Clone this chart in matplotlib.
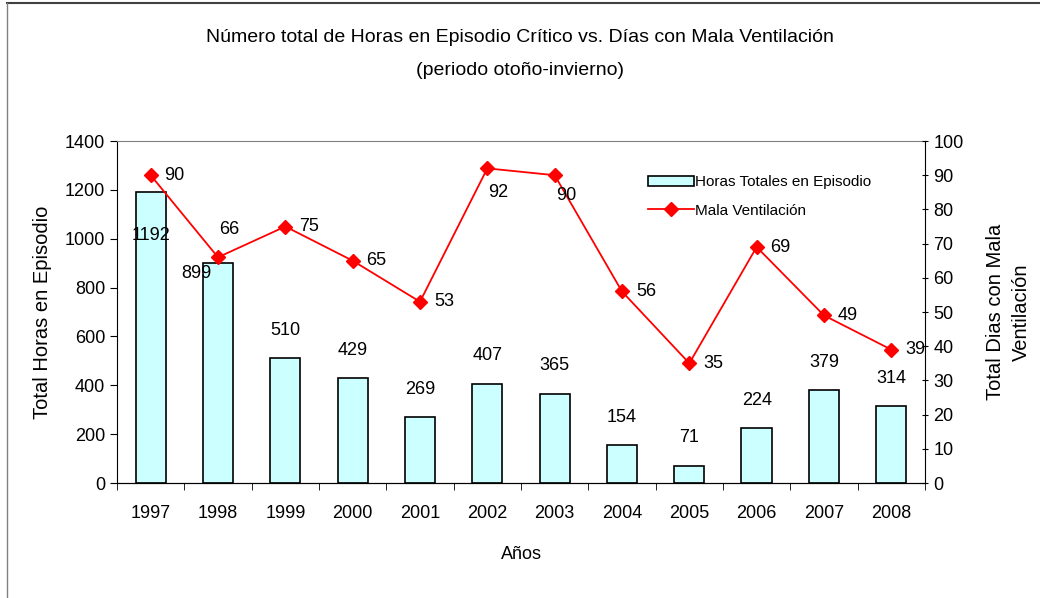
import matplotlib
matplotlib.use("Agg")
import matplotlib.pyplot as plt
import numpy as np

years = ["1997", "1998", "1999", "2000", "2001", "2002", "2003", "2004", "2005", "2006", "2007", "2008"]
horas = [1192, 899, 510, 429, 269, 407, 365, 154, 71, 224, 379, 314]
dias = [90, 66, 75, 65, 53, 92, 90, 56, 35, 69, 49, 39]

plt.rcParams['font.family'] = ['Liberation Sans', 'DejaVu Sans']

fig = plt.figure(figsize=(10.4, 5.98), dpi=100)
ax = fig.add_axes([0.1125, 0.1923, 0.7769, 0.5719])
x = np.arange(len(years))

ax.bar(x, horas, width=0.45, color="#ccffff", edgecolor="black", linewidth=1.2,
       label="Horas Totales en Episodio", zorder=2)
ax.set_xlim(-0.5, len(years) - 0.5)
ax.set_ylim(0, 1400)
ax.set_yticks(range(0, 1401, 200))
ax.set_xticks(x)
ax.set_xticklabels(years, fontsize=13)
ax.set_xticks(np.arange(-0.5, len(years), 1), minor=True)
ax.tick_params(axis="x", which="major", length=0, pad=16)
ax.tick_params(axis="x", which="minor", length=5, direction="out")
ax.tick_params(axis="y", labelsize=13, length=5, direction="out")
ax.spines["top"].set_color("#808080")
ax.spines["right"].set_visible(False)

ax2 = ax.twinx()
ax2.plot(x, dias, color="red", marker="D", markersize=7, linewidth=1.3,
         label="Mala Ventilación", zorder=3)
ax2.set_ylim(0, 100)
ax2.set_yticks(range(0, 101, 10))
ax2.tick_params(axis="y", labelsize=13, length=5, direction="inout")
ax2.spines["top"].set_visible(False)
ax2.spines["left"].set_visible(False)

# bar labels (offsets in pixels)
bar_off = {0: (0, -44), 1: (-22, -10)}
for i, v in enumerate(horas):
    dx, dy = bar_off.get(i, (0, 28))
    ax.annotate(str(v), (x[i], v), xytext=(dx, dy), textcoords="offset pixels",
                ha="center", va="center", fontsize=13, zorder=4)

# line labels
line_off = {1: (11, 28), 5: (11, -24), 6: (12, -20)}
for i, v in enumerate(dias):
    dx, dy = line_off.get(i, (24, 0))
    ax2.annotate(str(v), (x[i], v), xytext=(dx, dy), textcoords="offset pixels",
                 ha="center", va="center", fontsize=13, zorder=4)

ax.set_ylabel("Total Horas en Episodio", fontsize=14.5, labelpad=9)
ax2.set_ylabel("Total Dias con Mala\nVentilación", fontsize=14.5,
               labelpad=16, linespacing=1.45)
ax.set_xlabel("Años", fontsize=13, labelpad=17)

fig.text(0.5, 0.937, "Número total de Horas en Episodio Crítico vs. Días con Mala Ventilación",
         ha="center", va="center", fontsize=14)
fig.text(0.5, 0.882, "(periodo otoño-invierno)", ha="center", va="center", fontsize=14)

h1, l1 = ax.get_legend_handles_labels()
h2, l2 = ax2.get_legend_handles_labels()
ax2.legend(h1 + h2, l1 + l2, loc="upper left", bbox_to_anchor=(0.64, 0.94),
           frameon=False, fontsize=11, handlelength=3.0, handletextpad=0.1,
           labelspacing=0.95)

fig.add_artist(plt.Line2D([0.0067, 1], [0.995, 0.995], color="#404040", linewidth=1.5,
                          transform=fig.transFigure))
fig.add_artist(plt.Line2D([0.0067, 0.0067], [0, 0.995], color="#808080", linewidth=1,
                          transform=fig.transFigure))

fig.savefig("out.png", dpi=100)
